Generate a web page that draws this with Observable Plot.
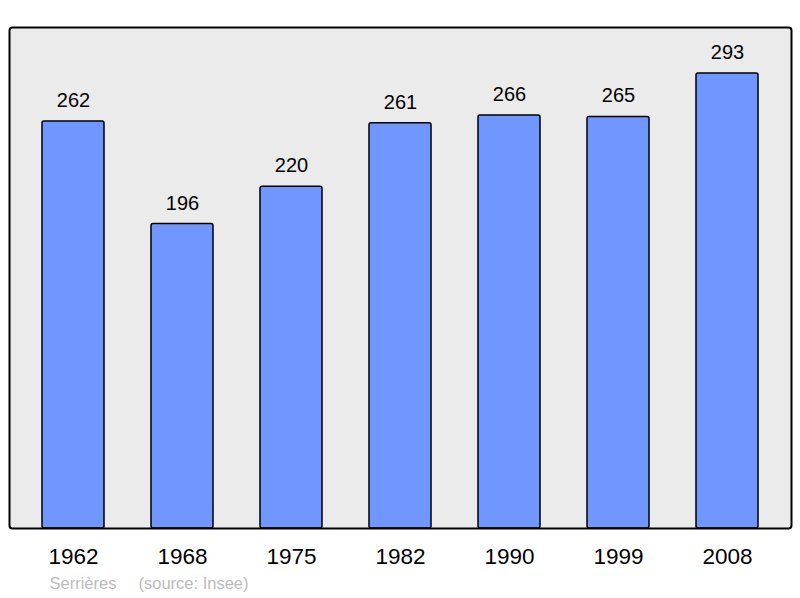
<!DOCTYPE html>
<html><head><meta charset="utf-8">
<script src="https://cdn.jsdelivr.net/npm/d3@7"></script>
<script src="https://cdn.jsdelivr.net/npm/@observablehq/plot@0.6"></script>
<style>body{margin:0;background:#fff;font-family:"Liberation Sans",Arial,sans-serif}</style>
</head><body><div id="chart"></div>
<script>
const years = ["1962","1968","1975","1982","1990","1999","2008"];
const population = [262,196,220,261,266,265,293];
const captionTown = "Serrières";
const captionSource = "(source: Insee)";
const data = years.map((y,i)=>({year:y, value:population[i]}));
const chart = Plot.plot({
  width: 800, height: 598,
  marginLeft: 9, marginRight: 9, marginTop: 27, marginBottom: 70,
  style: {fontFamily: '"Liberation Sans", Arial, sans-serif', background: "#fff"},
  x: {domain: years, paddingInner: 0.433, paddingOuter: 0.28, label: null},
  y: {domain: [0, 322.6], axis: null},
  marks: [
    Plot.frame({fill: "#ebebeb", stroke: "none", rx: 3}),
    Plot.barY(data, {x: "year", y: "value", fill: "#7097ff", stroke: "#000", strokeWidth: 1.5, rx: 2}),
    Plot.text(data, {x: "year", y: "value", text: d => String(d.value), dy: -21, fontSize: 20, fill: "#000"}),
    Plot.frame({stroke: "#000", strokeWidth: 2, rx: 3}),
    Plot.axisX({tickSize: 0, tickPadding: 20, fontSize: 22.5, label: null, color: "#000"}),
    Plot.text([captionTown], {frameAnchor: "bottom-left", dx: 40, dy: 60, fontSize: 16.5, fill: "#bbbbbb", textAnchor: "start"}),
    Plot.text([captionSource], {frameAnchor: "bottom-left", dx: 129, dy: 60, fontSize: 16.5, fill: "#bbbbbb", textAnchor: "start"})
  ]
});
document.getElementById("chart").append(chart);
</script></body></html>
